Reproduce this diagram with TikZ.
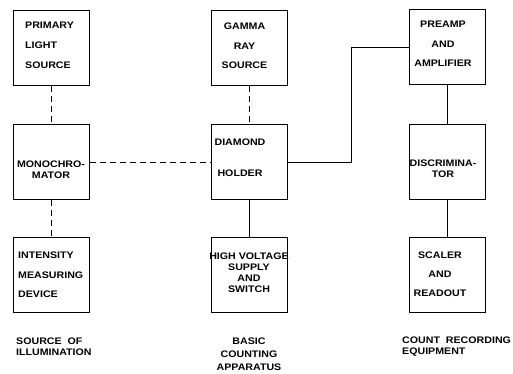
\documentclass[tikz,border=0pt]{standalone}
\usepackage{fontspec}
\newfontfamily\boxfont{Liberation Sans}[FakeStretch=1.12]
\usepackage{tikz}

\begin{document}
\begin{tikzpicture}[x=1pt,y=-1pt,
    box/.style={draw, line width=0.7pt, minimum width=76pt, minimum height=75pt, inner sep=0pt},
    inside/.style={font=\boxfont\bfseries\fontsize{9.5}{11}\selectfont, align=center, inner sep=0pt},
    caption/.style={font=\boxfont\bfseries\fontsize{9.5}{11}\selectfont, inner sep=0pt},
    link/.style={line width=0.7pt},
    dashlink/.style={line width=0.7pt, dash pattern=on 6pt off 4pt}]
  \useasboundingbox (0,0) rectangle (513,373);
  % column boxes
  \node[box] (plight) at (51.5,48) {};
  \node[box] (mono) at (51.5,162) {};
  \node[box] (intens) at (51.5,275) {};
  \node[box] (gamma) at (249.5,48) {};
  \node[box] (dholder) at (249.5,162) {};
  \node[box] (hvsup) at (249.5,275) {};
  \node[box] (preamp) at (447,47) {};
  \node[box] (discr) at (447,162) {};
  \node[box] (scaler) at (447,275) {};
  % box texts
  \node[inside, align=left, anchor=west] (plight-t) at (25,45) {PRIMARY\\[9pt]LIGHT\\[9pt]SOURCE};
  \node[inside] (mono-t) at (51,170) {MONOCHRO-\\MATOR};
  \node[inside, align=left, anchor=west] (intens-t) at (18,275) {INTENSITY\\[8.5pt]MEASURING\\[8.5pt]DEVICE};
  \node[inside] (gamma-t) at (244.5,46) {GAMMA\\[8.5pt]RAY\\[8.5pt]SOURCE};
  \node[inside] (dholder-t) at (240,157.5) {DIAMOND\\[20pt]HOLDER};
  \node[inside] (hvsup-t) at (249,273) {HIGH VOLTAGE\\SUPPLY\\AND\\SWITCH};
  \node[inside] (preamp-t) at (443,44) {PREAMP\\[8.5pt]AND\\[8.5pt]AMPLIFIER};
  \node[inside] (discr-t) at (443,169) {DISCRIMINA-\\TOR};
  \node[inside] (scaler-t) at (440,274) {SCALER\\[8pt]AND\\[8pt]READOUT};
  % captions
  \node[caption, align=left, anchor=west] (illum) at (16,347) {SOURCE\ \ OF\\ILLUMINATION};
  \node[caption, align=center] (basic) at (249,354) {BASIC\\[2pt]COUNTING\\[2pt]APPARATUS};
  \node[caption, align=left, anchor=west] (count) at (402,347) {COUNT\ \ RECORDING\\EQUIPMENT};
  % connectors
  \draw[dashlink] (plight) -- (mono);
  \draw[dashlink] (mono) -- (intens);
  \draw[dashlink] (mono.east) -- (dholder.west);
  \draw[dashlink] (gamma) -- (dholder);
  \draw[link] (dholder) -- (hvsup);
  \draw[link] (dholder.east) -- ++(63,0) |- (preamp.west);
  \draw[link] (preamp) -- (discr);
  \draw[link] (discr) -- (scaler);
\end{tikzpicture}
\end{document}
